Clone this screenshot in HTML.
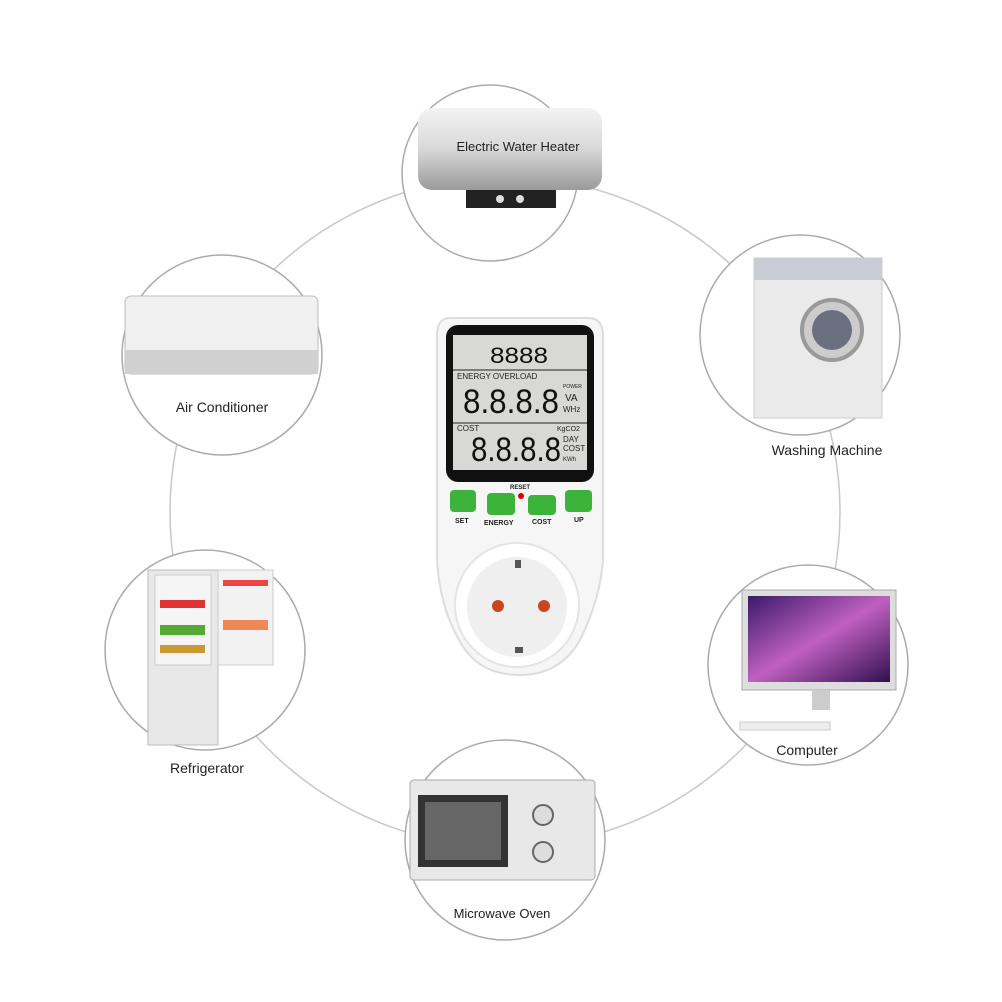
<!DOCTYPE html>
<html><head><style>
html,body{margin:0;padding:0;background:#fff;}
svg{display:block;font-family:"Liberation Sans",sans-serif;}
</style></head><body>
<svg width="1002" height="1002" viewBox="0 0 1002 1002">
<circle cx="505" cy="512" r="335" fill="none" stroke="#c8c8c8" stroke-width="1.5"/>
<g fill="#fff" stroke="#aaa" stroke-width="1.5">
<circle cx="490" cy="173" r="88"/>
<circle cx="222" cy="355" r="100"/>
<circle cx="800" cy="335" r="100"/>
<circle cx="205" cy="650" r="100"/>
<circle cx="808" cy="665" r="100"/>
<circle cx="505" cy="840" r="100"/>
</g>
<defs><linearGradient id="wh" x1="0" y1="0" x2="0" y2="1"><stop offset="0" stop-color="#f4f4f4"/><stop offset="0.5" stop-color="#d8d8d8"/><stop offset="1" stop-color="#9a9a9a"/></linearGradient>
<linearGradient id="scr" x1="0" y1="0" x2="1" y2="1"><stop offset="0" stop-color="#3a1a6a"/><stop offset="0.5" stop-color="#c060c0"/><stop offset="1" stop-color="#301050"/></linearGradient></defs>
<rect x="418" y="108" width="184" height="82" rx="14" fill="url(#wh)"/>
<rect x="466" y="190" width="90" height="18" fill="#222"/>
<circle cx="500" cy="199" r="4" fill="#ddd"/><circle cx="520" cy="199" r="4" fill="#ddd"/>
<text x="518" y="151" font-size="13" text-anchor="middle" fill="#222">Electric Water Heater</text>
<rect x="125" y="296" width="193" height="78" rx="6" fill="#f0f0f0" stroke="#bbb"/>
<rect x="125" y="350" width="193" height="24" fill="#d0d0d0"/>
<text x="222" y="412" font-size="14" text-anchor="middle" fill="#222">Air Conditioner</text>
<rect x="754" y="258" width="128" height="160" fill="#eaeaea" stroke="#ccc"/>
<rect x="754" y="258" width="128" height="22" fill="#c8ccd4"/>
<circle cx="832" cy="330" r="30" fill="#ccc" stroke="#999" stroke-width="4"/>
<circle cx="832" cy="330" r="20" fill="#6a7080"/>
<text x="827" y="455" font-size="14" text-anchor="middle" fill="#222">Washing Machine</text>
<rect x="148" y="570" width="70" height="175" fill="#e8e8e8" stroke="#bbb"/>
<rect x="155" y="575" width="56" height="90" fill="#f5f5f5" stroke="#ccc"/>
<rect x="160" y="600" width="45" height="8" fill="#d33"/><rect x="160" y="625" width="45" height="10" fill="#5a3"/><rect x="160" y="645" width="45" height="8" fill="#c93"/>
<rect x="218" y="570" width="55" height="95" fill="#f2f2f2" stroke="#ccc"/>
<rect x="223" y="580" width="45" height="6" fill="#e44"/><rect x="223" y="620" width="45" height="10" fill="#e85"/>
<text x="207" y="773" font-size="14" text-anchor="middle" fill="#222">Refrigerator</text>
<rect x="742" y="590" width="154" height="100" fill="#ddd" stroke="#aaa"/>
<rect x="748" y="596" width="142" height="86" fill="url(#scr)"/>
<rect x="812" y="690" width="18" height="20" fill="#ccc"/>
<rect x="740" y="722" width="90" height="8" fill="#eee" stroke="#ccc"/>
<text x="807" y="755" font-size="14" text-anchor="middle" fill="#222">Computer</text>
<rect x="410" y="780" width="185" height="100" rx="4" fill="#e8e8e8" stroke="#aaa"/>
<rect x="418" y="795" width="90" height="72" fill="#333"/>
<rect x="425" y="802" width="76" height="58" fill="#666"/>
<circle cx="543" cy="815" r="10" fill="#ddd" stroke="#666" stroke-width="2"/>
<circle cx="543" cy="852" r="10" fill="#ddd" stroke="#666" stroke-width="2"/>
<text x="502" y="918" font-size="13" text-anchor="middle" fill="#222">Microwave Oven</text>
<path d="M450 318 H588 Q603 318 603 335 V560 Q600 600 580 640 Q560 675 520 675 Q480 675 462 645 Q440 610 437 560 V335 Q437 318 450 318Z" fill="#f6f6f6" stroke="#ddd" stroke-width="2"/>
<rect x="446" y="325" width="148" height="157" rx="12" fill="#111"/>
<rect x="453" y="335" width="134" height="135" fill="#d8d9d6"/>
<line x1="453" y1="370" x2="587" y2="370" stroke="#222"/>
<line x1="453" y1="423" x2="587" y2="423" stroke="#222"/>
<g fill="#111">
<text x="490" y="363" font-size="22" textLength="58" lengthAdjust="spacingAndGlyphs">8888</text>
<text x="463" y="413" font-size="34" textLength="96" lengthAdjust="spacingAndGlyphs">8.8.8.8</text>
<text x="471" y="461" font-size="34" textLength="90" lengthAdjust="spacingAndGlyphs">8.8.8.8</text>
</g>
<g font-size="8" fill="#222">
<text x="457" y="379">ENERGY  OVERLOAD</text>
<text x="457" y="431">COST</text>
<text x="563" y="388" font-size="5">POWER</text>
<text x="565" y="401" font-size="10">VA</text><text x="563" y="412" font-size="8">WHz</text>
<text x="563" y="442">DAY</text><text x="563" y="451">COST</text><text x="563" y="461" font-size="6">KWh</text>
<text x="557" y="431" font-size="7">KgCO2</text>
<text x="510" y="489" font-size="6" font-weight="bold">RESET</text>
</g>
<circle cx="521" cy="496" r="3" fill="#d00"/>
<g fill="#3cb43c">
<rect x="450" y="490" width="26" height="22" rx="4"/>
<rect x="487" y="493" width="28" height="22" rx="4"/>
<rect x="528" y="495" width="28" height="20" rx="4"/>
<rect x="565" y="490" width="27" height="22" rx="4"/>
</g>
<g font-size="7" font-weight="bold" fill="#222">
<text x="455" y="523">SET</text><text x="484" y="525">ENERGY</text><text x="532" y="524">COST</text><text x="574" y="522">UP</text>
</g>
<circle cx="517" cy="605" r="62" fill="#fff" stroke="#e4e4e4" stroke-width="2"/>
<circle cx="517" cy="607" r="50" fill="#efefef"/>
<circle cx="498" cy="606" r="6" fill="#c8461e"/>
<circle cx="544" cy="606" r="6" fill="#c8461e"/>
<rect x="515" y="560" width="6" height="8" fill="#555"/><rect x="515" y="647" width="8" height="6" fill="#555"/>
</svg>
</body></html>
